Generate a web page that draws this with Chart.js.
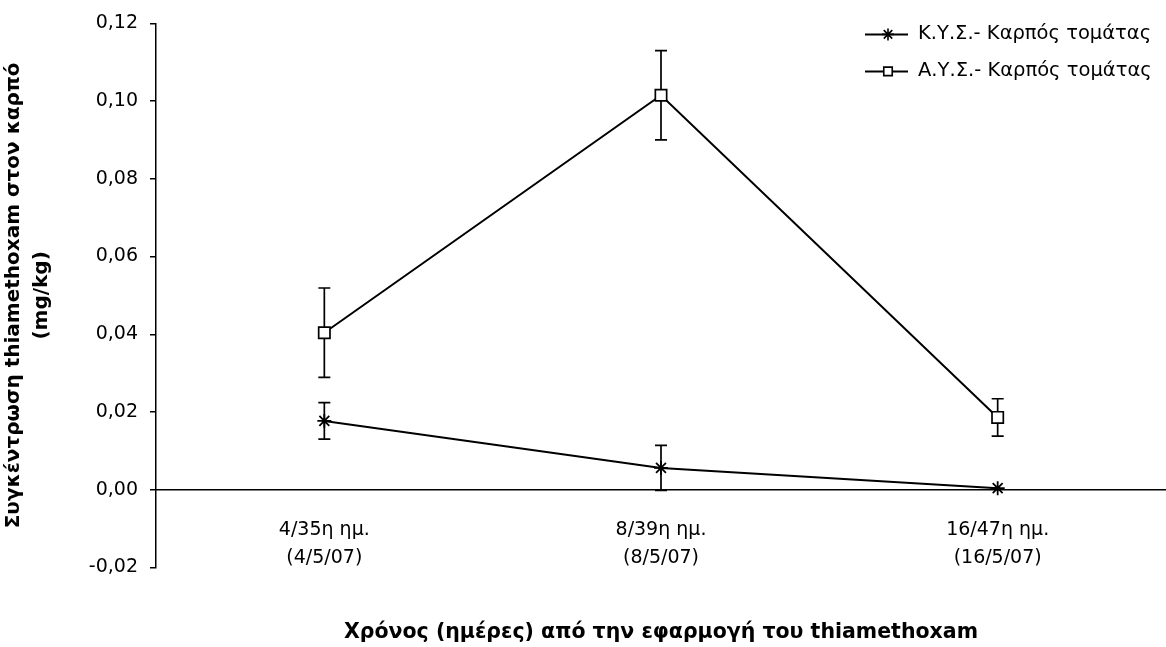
<!DOCTYPE html>
<html>
<head>
<meta charset="utf-8">
<script src="https://cdn.jsdelivr.net/npm/chart.js@4.4.1/dist/chart.umd.min.js"></script>
<style>
  html, body { margin: 0; padding: 0; background: #fff; }
  #wrap { width: 1166px; height: 647px; }
</style>
</head>
<body>
<div id="wrap"><canvas id="myChart"></canvas></div>
<script>
// categories (two-line tick labels)
var categories = [
  ['4/35η ημ.', '(4/5/07)'],
  ['8/39η ημ.', '(8/5/07)'],
  ['16/47η ημ.', '(16/5/07)']
];

// Κ.Υ.Σ. series + error (±)
var kysLabel = 'Κ.Υ.Σ.- Καρπός τομάτας';
var kysValues = [0.0177, 0.0056, 0.0004];
var kysErrors = [0.0047, 0.0058, 0];

// Α.Υ.Σ. series + error (±)
var aysLabel = 'Α.Υ.Σ.- Καρπός τομάτας';
var aysValues = [0.0404, 0.1015, 0.0186];
var aysErrors = [0.0115, 0.0115, 0.0048];

// y axis range
var yMin = -0.02, yMax = 0.12, yStep = 0.02;

var yTitle = ['Συγκέντρωση thiamethoxam στον καρπό', '(mg/kg)'];
var xTitle = 'Χρόνος (ημέρες) από την εφαρμογή του thiamethoxam';

Chart.defaults.font.family = 'DejaVu Sans';
Chart.defaults.color = '#000';

// error bars drawn under the markers
const errorBars = {
  id: 'errorBars',
  beforeDatasetsDraw(chart) {
    const ctx = chart.ctx, ys = chart.scales.y;
    chart.data.datasets.forEach(function (ds, i) {
      const meta = chart.getDatasetMeta(i);
      meta.data.forEach(function (pt, j) {
        const e = ds.errors[j];
        if (!e) return;
        const top = ys.getPixelForValue(ds.data[j] + e);
        const bot = ys.getPixelForValue(ds.data[j] - e);
        ctx.save();
        ctx.strokeStyle = '#000';
        ctx.lineWidth = 1.7;
        ctx.beginPath();
        ctx.moveTo(pt.x, top); ctx.lineTo(pt.x, bot);
        ctx.moveTo(pt.x - 6, top); ctx.lineTo(pt.x + 6, top);
        ctx.moveTo(pt.x - 6, bot); ctx.lineTo(pt.x + 6, bot);
        ctx.stroke();
        ctx.restore();
      });
    });
  }
};

// legend in the top right, line + marker + text like Excel
const sideLegend = {
  id: 'sideLegend',
  afterDraw(chart) {
    const ctx = chart.ctx, a = chart.chartArea;
    const x0 = chart.width - 301;
    chart.data.datasets.forEach(function (ds, i) {
      const y = a.top + 11 + i * 37;
      ctx.save();
      ctx.strokeStyle = '#000';
      ctx.lineWidth = 2;
      ctx.beginPath();
      ctx.moveTo(x0, y); ctx.lineTo(x0 + 43, y);
      ctx.stroke();
      ctx.fillStyle = '#fff';
      ctx.lineWidth = 1.6;
      Chart.helpers.drawPoint(ctx, {
        pointStyle: ds.pointStyle,
        radius: 6,
        rotation: 0,
        borderWidth: 1.6
      }, x0 + 23, y);
      ctx.fillStyle = '#000';
      ctx.font = '19.5px "DejaVu Sans"';
      ctx.textBaseline = 'middle';
      ctx.textAlign = 'left';
      ctx.fillText(ds.label, x0 + 53, y);
      ctx.restore();
    });
  }
};

var grapharea = document.getElementById('myChart');

const data = {
  labels: categories,
  datasets: [{
    label: kysLabel,
    data: kysValues,
    errors: kysErrors,
    borderColor: '#000',
    borderWidth: 2,
    pointStyle: 'star',
    pointRadius: 7,
    pointBorderWidth: 1.8,
    pointBorderColor: '#000',
    pointBackgroundColor: '#000',
    tension: 0
  }, {
    label: aysLabel,
    data: aysValues,
    errors: aysErrors,
    borderColor: '#000',
    borderWidth: 2,
    pointStyle: 'rect',
    pointRadius: 8,
    pointBorderWidth: 1.7,
    pointBorderColor: '#000',
    pointBackgroundColor: '#fff',
    tension: 0
  }]
};

const config = {
  type: 'line',
  data: data,
  options: {
    responsive: true,
    maintainAspectRatio: false,
    animation: false,
    layout: { autoPadding: false, padding: { top: 22, right: 0, left: 0, bottom: 0 } },
    plugins: {
      legend: { display: false },
      tooltip: { enabled: false },
      title: {
        display: true,
        position: 'bottom',
        fullSize: false,
        text: xTitle,
        color: '#000',
        font: { size: 20.5, weight: 'bold' },
        padding: { top: 53, bottom: 2 }
      }
    },
    scales: {
      x: {
        type: 'category',
        offset: true,
        position: { y: 0 },
        afterFit: function (scale) { scale.paddingLeft = 0; scale.paddingRight = 0; },
        grid: { display: false, drawTicks: false },
        border: { display: true, color: '#000', width: 1.5 },
        ticks: {
          color: '#000',
          font: { size: 19, lineHeight: 1.5 },
          padding: 26,
          maxRotation: 0,
          autoSkip: false
        }
      },
      y: {
        min: yMin,
        max: yMax,
        afterFit: function (scale) { scale.width = 156; },
        grid: { drawOnChartArea: false, drawTicks: true, tickLength: 6, color: '#000', lineWidth: 1.5 },
        border: { display: true, color: '#000', width: 1.5 },
        ticks: {
          stepSize: yStep,
          color: '#000',
          font: { size: 19 },
          padding: 12,
          callback: function (v) {
            if (Math.abs(v) < 1e-9) v = 0;
            return v.toFixed(2).replace('.', ',');
          }
        },
        title: {
          display: true,
          text: yTitle,
          color: '#000',
          font: { size: 20, weight: 'bold', lineHeight: 1.4 },
          padding: { top: 0, bottom: 0 }
        }
      }
    }
  },
  plugins: [errorBars, sideLegend]
};

const myChart = new Chart(grapharea, config);
</script>
</body>
</html>
